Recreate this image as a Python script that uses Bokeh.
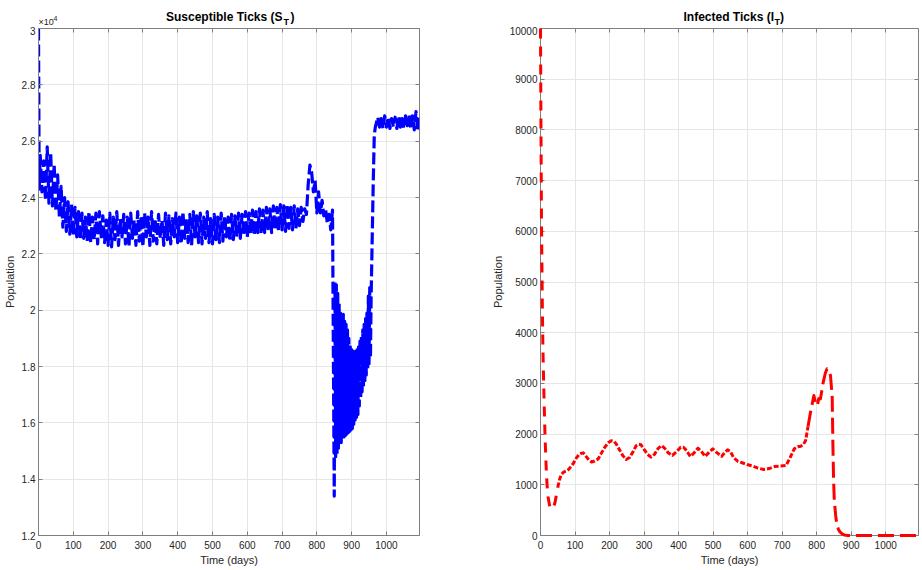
from bokeh.plotting import figure
from bokeh.layouts import row, column
from bokeh.models import FixedTicker, LinearAxis, CustomJSTickFormatter, Range1d
from bokeh.core.properties import value
from bokeh.embed import file_html
from bokeh.resources import INLINE

# ---------------- data ----------------
x_ticks = [0, 100, 200, 300, 400, 500, 600, 700, 800, 900, 1000]
s_ticks = [12000, 14000, 16000, 18000, 20000, 22000, 24000, 26000, 28000, 30000]
i_ticks = [0, 1000, 2000, 3000, 4000, 5000, 6000, 7000, 8000, 9000, 10000]

# time (days) of the susceptible-tick samples
s_day = ([0, 2] + list(range(5, 850, 5)) + [850] + list(range(852, 955, 2))
         + [956, 959, 962, 965, 968] + list(range(970, 1096, 5)))

s_start = [30000, 24300]
s_band = [
    25500, 24200, 25300, 23900, 25800, 23800, 25600, 23700, 25200, 23500,
    24800, 23300, 24400, 22950, 24000, 22800, 23850, 22700, 23750, 22650,
    23650, 22600, 23500, 22500, 23450, 22550, 23300, 22450, 23500, 22400,
    23300, 22500, 23450, 22350, 23500, 22600, 23350, 22400, 23200, 22300,
    23450, 22250, 23300, 22500, 23500, 22300, 23250, 22600, 23400, 22350,
    23300, 22250, 23450, 22550, 23200, 22300, 23500, 22450, 23350, 22250,
    23450, 22600, 23300, 22300, 23500, 22450, 23250, 22350, 23400, 22550,
    23200, 22300, 23450, 22500, 23350, 22350, 23250, 22600, 23450, 22400,
    23300, 22350, 23500, 22550, 23250, 22400, 23400, 22300, 23500, 22600,
    23350, 22400, 23450, 22350, 23300, 22550, 23500, 22400, 23250, 22350,
    23400, 22500, 23300, 22400, 23450, 22450, 23350, 22600, 23300, 22450,
    23400, 22500, 23350, 22600, 23450, 22550, 23400, 22650, 23500, 22600,
    23450, 22700, 23550, 22650, 23500, 22750, 23600, 22700, 23550, 22750,
    23650, 22800, 23600, 22750, 23700, 22850, 23650, 22800, 23750, 22850,
    23700, 22800, 23750, 22900, 23650, 22850, 23700, 22900, 23600, 23000,
    23650, 23150, 23600, 23400, 24450, 25150, 24900, 24200, 24600, 23450,
    24200, 23450, 23900, 23350, 23600, 23100, 23400, 22850, 23550,
]
s_drop = [13400]
s_trough = [
    21000, 14800, 20900, 14900, 20600, 15100, 20300, 15200, 19900, 15300,
    19800, 15400, 19850, 15500, 19600, 15550, 19500, 15600, 19300, 15650,
    19000, 15700, 18700, 15750, 18600, 15800, 18550, 15950, 18500, 16100,
    18550, 16200, 18600, 16300, 18700, 16600, 18900, 16900, 19100, 17100,
    19300, 17300, 19500, 17500, 19700, 17700, 19900, 17900, 20500, 18100,
    20800, 18300,
]
s_rise = [20500, 22500, 24500, 26200, 26500]
s_plateau = [
    26600, 26850, 26500, 26800, 26450, 26900, 26500, 26850, 26450, 26800,
    26500, 26850, 26450, 26900, 26500, 26800, 26450, 26900, 26550, 26950,
    26450, 26900, 26400, 27050, 26350, 26900,
]
s_val = s_start + s_band + s_drop + s_trough + s_rise + s_plateau

# infected ticks
i_day = [0, 1, 2, 3, 5, 7, 9, 11, 13, 15, 17, 19, 22, 26, 30, 34, 38, 42, 46, 50,
         55, 60, 67, 74, 81, 88, 95, 103, 112, 118, 124, 132, 140, 148, 157, 167,
         176, 186, 196, 205, 212, 219, 228, 238, 248, 258, 268, 277, 284, 291,
         300, 310, 320, 330, 341, 351, 360, 370, 382, 394, 406, 414, 420, 434,
         445, 456, 466, 477, 488, 499, 510, 525, 534, 542, 550, 560, 572, 586,
         601, 615, 630, 647, 662, 678, 695, 711, 722, 735, 745, 754, 762, 768,
         775, 783, 792, 797, 802, 806, 811, 818, 825, 830, 835, 840, 843, 845,
         847, 849, 851, 855, 858, 863, 868, 875, 880, 890, 900, 1000, 1095]
i_val = [10000, 8500, 7200, 6100, 4700, 3700, 3050, 2500, 2000, 1600, 1250, 1000,
         760, 600, 530, 525, 560, 650, 800, 950,
         1100, 1200, 1250, 1270, 1300, 1360, 1420, 1520, 1600, 1620, 1630, 1560,
         1490, 1450, 1470, 1510,
         1620, 1740, 1830, 1870, 1860, 1810, 1700, 1580, 1500, 1540, 1650, 1770,
         1800, 1790,
         1700, 1600, 1545, 1600, 1720, 1775, 1720, 1630, 1578, 1650, 1742, 1740,
         1700, 1560,
         1630, 1722, 1660, 1560, 1640, 1709, 1640, 1560, 1640, 1690, 1660, 1530,
         1460, 1430,
         1394, 1370, 1330, 1302, 1320, 1360, 1370, 1380, 1520, 1709, 1750, 1762,
         1800, 1874,
         2150, 2465, 2761, 2600, 2564, 2700, 2695, 2992, 3200, 3287, 3250, 3156,
         2900, 2728,
         1800, 1100, 700, 400, 230, 120, 66, 25, 10, 2, 0, 0, 0]

# ---------------- styling helpers ----------------
FONT = "Liberation Sans"
AX = "#7f7f7f"
TXT = "#262626"
W1, W2 = 488, 433
HH, H = 26, 542
L1, R1 = 37, 69
L2, R2 = 52, 3
XMAX = 1095


def style_axis(ax, label_size="10px"):
    ax.major_tick_in = 4
    ax.major_tick_out = 0
    ax.minor_tick_in = 0
    ax.minor_tick_out = 0
    ax.minor_tick_line_color = None
    ax.axis_line_color = AX
    ax.major_tick_line_color = AX
    ax.major_label_text_font = FONT
    ax.major_label_text_font_size = label_size
    ax.major_label_text_color = TXT
    ax.axis_label_text_font = FONT
    ax.axis_label_text_font_size = "11px"
    ax.axis_label_text_font_style = "normal"
    ax.axis_label_text_color = TXT
    ax.major_label_standoff = 3
    ax.axis_label_standoff = 3


def make_fig(width, min_left, min_right, y0, y1, yticks):
    p = figure(width=width, height=H, x_range=Range1d(0, XMAX), y_range=Range1d(y0, y1),
               output_backend="svg", toolbar_location=None,
               min_border_left=min_left, min_border_right=min_right,
               min_border_top=2, min_border_bottom=33)
    xt = FixedTicker(ticks=x_ticks)
    yt = FixedTicker(ticks=yticks)
    p.xaxis.ticker = xt
    p.yaxis.ticker = yt
    p.xgrid.ticker = xt
    p.ygrid.ticker = yt
    p.grid.grid_line_color = "#e6e6e6"
    p.grid.grid_line_width = 1
    style_axis(p.xaxis[0])
    style_axis(p.yaxis[0])
    p.xaxis[0].major_label_standoff = 5
    p.xaxis[0].axis_label_standoff = 2
    p.xaxis.axis_label = "Time (days)"
    p.yaxis.axis_label = "Population"
    p.outline_line_color = AX
    p.outline_line_alpha = 1
    blank = "return '';"
    # tick marks on the top and right edges (box style), taking no panel space
    top = LinearAxis(ticker=FixedTicker(ticks=x_ticks), fixed_location=y1,
                     formatter=CustomJSTickFormatter(code=blank))
    right = LinearAxis(ticker=FixedTicker(ticks=yticks), fixed_location=XMAX,
                       formatter=CustomJSTickFormatter(code=blank))
    for ax in (top, right):
        style_axis(ax, label_size="0px")
        ax.major_label_standoff = 0
    p.add_layout(top, "above")
    p.add_layout(right, "right")
    p.background_fill_color = "white"
    p.border_fill_color = "white"
    return p


def make_header(width, min_left, min_right):
    h = figure(width=width, height=HH, x_range=Range1d(0, XMAX), y_range=Range1d(0, 1),
               output_backend="svg", toolbar_location=None,
               x_axis_location=None, y_axis_location=None,
               min_border_left=min_left, min_border_right=min_right,
               min_border_top=0, min_border_bottom=0)
    h.grid.visible = False
    h.outline_line_color = None
    h.background_fill_color = "white"
    h.border_fill_color = "white"
    return h


def add_title(h, main, main_end, sub_start, paren_start):
    common = dict(text_baseline="alphabetic", text_font=value(FONT),
                  text_font_style="bold", text_color="#000000")
    h.text(x=[547.5], y=[0], text=[main], x_offset=main_end, y_offset=-9.5,
           text_align="right", text_font_size="12px", **common)
    h.text(x=[547.5], y=[0], text=["T"], x_offset=sub_start, y_offset=-5,
           text_align="left", text_font_size="9px", **common)
    h.text(x=[547.5], y=[0], text=[")"], x_offset=paren_start, y_offset=-9.5,
           text_align="left", text_font_size="12px", **common)


# ---------------- left: susceptible ticks ----------------
h1 = make_header(W1, L1, R1)
add_title(h1, "Susceptible Ticks (S", 54, 55, 62)
h1.text(x=[0], y=[0], text=["\u00d710"], x_offset=1, y_offset=-5, text_align="left",
        text_baseline="alphabetic", text_font=value(FONT), text_font_size="9px",
        text_color=TXT)
h1.text(x=[0], y=[0], text=["4"], x_offset=16, y_offset=-8.5, text_align="left",
        text_baseline="alphabetic", text_font=value(FONT), text_font_size="7px",
        text_color=TXT)

p1 = make_fig(W1, L1, R1, 12000, 30000, s_ticks)
p1.yaxis[0].formatter = CustomJSTickFormatter(code="return String(Math.round(tick/1000)/10);")
p1.line(s_day, s_val, line_color="#0000ff", line_width=3.2, line_dash="12 4",
        line_join="round")

# ---------------- right: infected ticks ----------------
h2 = make_header(W2, L2, R2)
add_title(h2, "Infected Ticks (I", 44.5, 45, 50.5)

p2 = make_fig(W2, L2, R2, 0, 10000, i_ticks)
idx1 = [k for k, d in enumerate(i_day) if d <= 50]
idx2 = [k for k, d in enumerate(i_day) if 50 <= d <= 775]
idx3 = [k for k, d in enumerate(i_day) if d >= 775]
for idx, dash in ((idx1, "10 8"), (idx2, "5 2"), (idx3, "16 6")):
    p2.line([i_day[k] for k in idx], [i_val[k] for k in idx], line_color="#ff0000",
            line_width=3, line_dash=dash, line_join="round", level="overlay")

layout = column(row(h1, h2), row(p1, p2))
open("out.html", "w").write(file_html(layout, INLINE))
